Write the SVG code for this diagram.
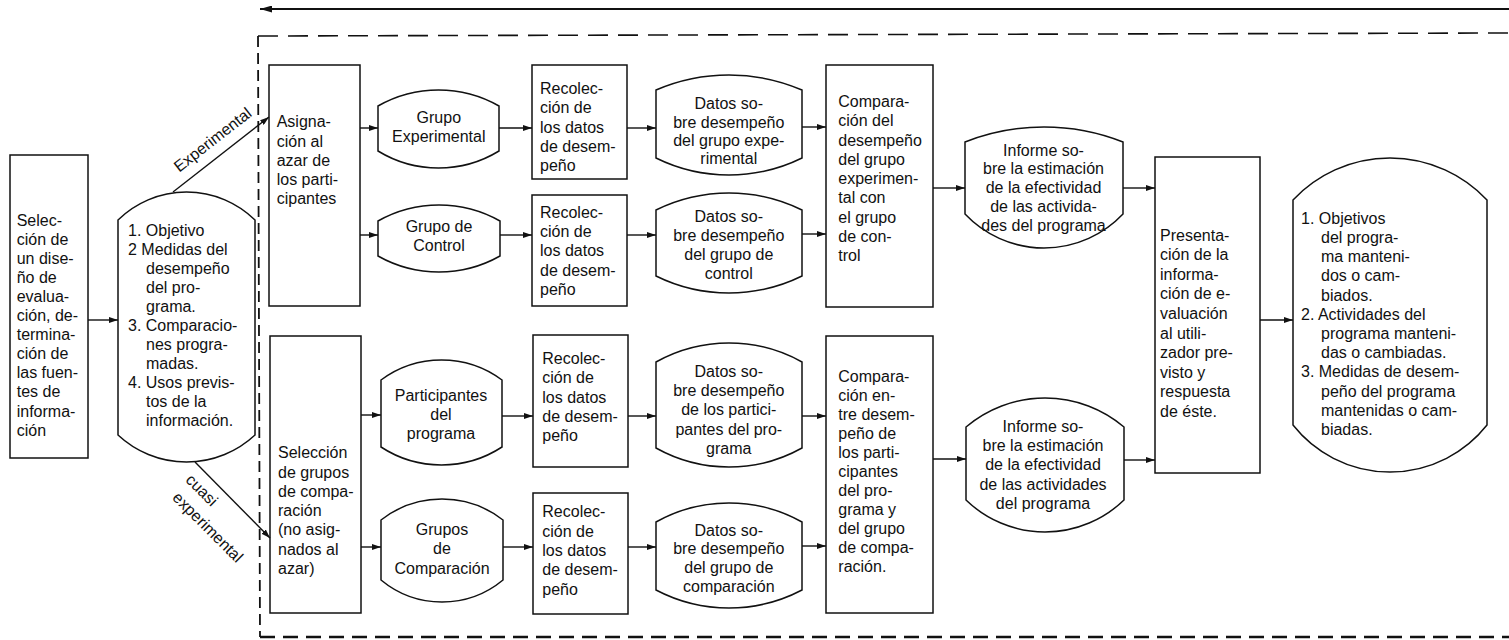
<svg xmlns="http://www.w3.org/2000/svg" width="1509" height="640" viewBox="0 0 1509 640">
<defs>
<style>
.n rect,.n path{fill:none;stroke:#111;stroke-width:1.5}
text{font-family:"Liberation Sans",Arial,sans-serif;font-size:16px;fill:#111}
.m{text-anchor:middle}
.c line{stroke:#111;stroke-width:1.4;marker-end:url(#ah)}
.d{fill:none;stroke:#111}
</style>
<marker id="ah" markerUnits="userSpaceOnUse" markerWidth="10" markerHeight="6" refX="9" refY="3" orient="auto">
<path d="M0,0 L9,3 L0,6 Z" fill="#111"/>
</marker>
<marker id="ah2" markerUnits="userSpaceOnUse" markerWidth="13" markerHeight="7" refX="12" refY="3.5" orient="auto">
<path d="M0,0 L12,3.5 L0,7 Z" fill="#111"/>
</marker>
</defs>
<rect width="1509" height="640" fill="#fff"/>

<g id="frame">
<line class="d" x1="258" y1="36" x2="1509" y2="33" stroke-width="1.6" stroke-dasharray="20 10"/>
<line class="d" x1="258" y1="36" x2="260" y2="637" stroke-width="1.8" stroke-dasharray="11 6"/>
<line class="d" x1="260" y1="637" x2="1509" y2="637" stroke-width="2.6" stroke-dasharray="15 8"/>
</g>

<g class="c" id="connectors">
<line x1="1509" y1="9" x2="260" y2="9" style="stroke-width:1.8;marker-end:url(#ah2)"/>
<line x1="88" y1="320" x2="118" y2="320"/>
<line x1="173" y1="192" x2="269" y2="117"/>
<line x1="195" y1="462" x2="270" y2="538"/>
<line x1="360" y1="128" x2="378" y2="128"/>
<line x1="360" y1="235" x2="378" y2="235"/>
<line x1="499" y1="128" x2="532" y2="128"/>
<line x1="500" y1="235" x2="532" y2="235"/>
<line x1="627" y1="128" x2="656" y2="128"/>
<line x1="627" y1="235" x2="656" y2="235"/>
<line x1="802" y1="127" x2="826" y2="127"/>
<line x1="802" y1="234" x2="826" y2="234"/>
<line x1="933" y1="188" x2="965" y2="188"/>
<line x1="361" y1="415" x2="381" y2="415"/>
<line x1="361" y1="547" x2="381" y2="547"/>
<line x1="502" y1="416" x2="533" y2="416"/>
<line x1="503" y1="547" x2="533" y2="547"/>
<line x1="628" y1="416" x2="656" y2="416"/>
<line x1="628" y1="547" x2="656" y2="547"/>
<line x1="802" y1="416" x2="826" y2="416"/>
<line x1="802" y1="546" x2="826" y2="546"/>
<line x1="933" y1="459" x2="966" y2="459"/>
<line x1="1123" y1="188" x2="1155" y2="188"/>
<line x1="1124" y1="460" x2="1155" y2="460"/>
<line x1="1260" y1="320" x2="1293" y2="320"/>
</g>

<g id="labels">
<text class="m" transform="translate(216,144) rotate(-38)">Experimental</text>
<text class="m" transform="translate(198,494) rotate(45)">cuasi</text>
<text class="m" transform="translate(204,531) rotate(45)">experimental</text>
</g>

<g class="n" id="seleccion-diseno">
<rect x="10" y="155" width="78" height="303"/>
<text x="16.7" y="225.5"><tspan x="16.7">Selec-</tspan><tspan x="16.7" dy="19.1">ción de</tspan><tspan x="16.7" dy="19.1">un dise-</tspan><tspan x="16.7" dy="19.1">ño de</tspan><tspan x="16.7" dy="19.1">evalua-</tspan><tspan x="16.7" dy="19.1">ción, de-</tspan><tspan x="16.7" dy="19.1">termina-</tspan><tspan x="16.7" dy="19.1">ción de</tspan><tspan x="16.7" dy="19.1">las fuen-</tspan><tspan x="16.7" dy="19.1">tes de</tspan><tspan x="16.7" dy="19.1">informa-</tspan><tspan x="16.7" dy="19.1">ción</tspan></text>
</g>

<g class="n" id="objetivos">
<path d="M118,220 A97.8,97.8 0 0 1 255,220 L255,435 A100.4,100.4 0 0 1 118,435 Z"/>
<text x="128" y="235.5"><tspan x="128">1. Objetivo</tspan><tspan x="128" dy="19.05">2 Medidas del</tspan><tspan x="146" dy="19.05">desempeño</tspan><tspan x="146" dy="19.05">del pro-</tspan><tspan x="146" dy="19.05">grama.</tspan><tspan x="128" dy="19.05">3. Comparacio-</tspan><tspan x="146" dy="19.05">nes progra-</tspan><tspan x="146" dy="19.05">madas.</tspan><tspan x="128" dy="19.05">4. Usos previs-</tspan><tspan x="146" dy="19.05">tos de la</tspan><tspan x="146" dy="19.05">información.</tspan></text>
</g>

<g class="n" id="asignacion">
<rect x="269" y="65" width="91" height="241"/>
<text x="276.7" y="127.2"><tspan x="276.7">Asigna-</tspan><tspan x="276.7" dy="19.3">ción al</tspan><tspan x="276.7" dy="19.3">azar de</tspan><tspan x="276.7" dy="19.3">los parti-</tspan><tspan x="276.7" dy="19.3">cipantes</tspan></text>
</g>

<g class="n" id="seleccion-grupos">
<rect x="270" y="336" width="91" height="277"/>
<text x="278" y="458.2"><tspan x="278">Selección</tspan><tspan x="278" dy="19.3">de grupos</tspan><tspan x="278" dy="19.3">de compa-</tspan><tspan x="278" dy="19.3">ración</tspan><tspan x="278" dy="19.3">(no asig-</tspan><tspan x="278" dy="19.3">nados al</tspan><tspan x="278" dy="19.3">azar)</tspan></text>
</g>

<g class="n" id="grupo-experimental">
<path d="M378,106 A122.4,122.4 0 0 1 499,106 L499,151 A116.1,116.1 0 0 1 378,151 Z"/>
<text class="m" x="438.8" y="122.8"><tspan x="438.8">Grupo</tspan><tspan x="438.8" dy="19.4">Experimental</tspan></text>
</g>

<g class="n" id="grupo-control">
<path d="M378,221 A124.3,124.3 0 0 1 500,221 L500,256 A124.3,124.3 0 0 1 378,256 Z"/>
<text class="m" x="439" y="231.5"><tspan x="439">Grupo de</tspan><tspan x="439" dy="19">Control</tspan></text>
</g>

<g class="n" id="participantes">
<path d="M381,380 A101.5,101.5 0 0 1 502,380 L502,447 A110.7,110.7 0 0 1 381,447 Z"/>
<text class="m" x="441" y="400.5"><tspan x="441">Participantes</tspan><tspan x="441" dy="19.3">del</tspan><tspan x="441" dy="19">programa</tspan></text>
</g>

<g class="n" id="grupos-comparacion">
<path d="M381,520 A99.1,99.1 0 0 1 503,520 L503,580 A95.6,95.6 0 0 1 381,580 Z"/>
<text class="m" x="442" y="534.8"><tspan x="442">Grupos</tspan><tspan x="442" dy="19">de</tspan><tspan x="442" dy="20">Comparación</tspan></text>
</g>

<g class="n" id="recoleccion-1">
<rect x="532" y="65" width="95" height="114"/>
<text x="540" y="93.8"><tspan x="540">Recolec-</tspan><tspan x="540" dy="19.35">ción de</tspan><tspan x="540" dy="19.35">los datos</tspan><tspan x="540" dy="19.35">de desem-</tspan><tspan x="540" dy="19.35">peño</tspan></text>
</g>

<g class="n" id="recoleccion-2">
<rect x="532" y="195" width="95" height="111"/>
<text x="540" y="217.8"><tspan x="540">Recolec-</tspan><tspan x="540" dy="19.25">ción de</tspan><tspan x="540" dy="19.25">los datos</tspan><tspan x="540" dy="19.25">de desem-</tspan><tspan x="540" dy="19.25">peño</tspan></text>
</g>

<g class="n" id="recoleccion-3">
<rect x="533" y="335" width="95" height="132"/>
<text x="542.3" y="363.8"><tspan x="542.3">Recolec-</tspan><tspan x="542.3" dy="19.4">ción de</tspan><tspan x="542.3" dy="19.4">los datos</tspan><tspan x="542.3" dy="19.4">de desem-</tspan><tspan x="542.3" dy="19.4">peño</tspan></text>
</g>

<g class="n" id="recoleccion-4">
<rect x="533" y="493" width="95" height="121"/>
<text x="542.3" y="517.2"><tspan x="542.3">Recolec-</tspan><tspan x="542.3" dy="19.4">ción de</tspan><tspan x="542.3" dy="19.4">los datos</tspan><tspan x="542.3" dy="19.4">de desem-</tspan><tspan x="542.3" dy="19.4">peño</tspan></text>
</g>

<g class="n" id="datos-1">
<path d="M656,90 A185.1,185.1 0 0 1 802,90 L802,158 A165.2,165.2 0 0 1 656,158 Z"/>
<text class="m" x="728.8" y="109"><tspan x="728.8">Datos so-</tspan><tspan x="728.8" dy="18.5">bre desempeño</tspan><tspan x="728.8" dy="18.5">del grupo expe-</tspan><tspan x="728.8" dy="18">rimental</tspan></text>
</g>

<g class="n" id="datos-2">
<path d="M656,210 A165.2,165.2 0 0 1 802,210 L802,276 A165.2,165.2 0 0 1 656,276 Z"/>
<text class="m" x="728.8" y="222"><tspan x="728.8">Datos so-</tspan><tspan x="728.8" dy="18.5">bre desempeño</tspan><tspan x="728.8" dy="19">del grupo de</tspan><tspan x="728.8" dy="19.3">control</tspan></text>
</g>

<g class="n" id="datos-3">
<path d="M656,362 A149.7,149.7 0 0 1 802,362 L802,448 A149.7,149.7 0 0 1 656,448 Z"/>
<text class="m" x="728.8" y="377"><tspan x="728.8">Datos so-</tspan><tspan x="728.8" dy="19">bre desempeño</tspan><tspan x="728.8" dy="19.3">de los partici-</tspan><tspan x="728.8" dy="19.3">pantes del pro-</tspan><tspan x="728.8" dy="19">grama</tspan></text>
</g>

<g class="n" id="datos-4">
<path d="M656,522 A149.7,149.7 0 0 1 802,522 L802,590 A157,157 0 0 1 656,590 Z"/>
<text class="m" x="728.8" y="535.5"><tspan x="728.8">Datos so-</tspan><tspan x="728.8" dy="18.5">bre desempeño</tspan><tspan x="728.8" dy="19">del grupo de</tspan><tspan x="728.8" dy="19.3">comparación</tspan></text>
</g>

<g class="n" id="comparacion-1">
<rect x="826" y="65" width="107" height="242"/>
<text x="838.3" y="107.2"><tspan x="838.3">Compara-</tspan><tspan x="838.3" dy="19.25">ción del</tspan><tspan x="838.3" dy="19.25">desempeño</tspan><tspan x="838.3" dy="19.25">del grupo</tspan><tspan x="838.3" dy="19.25">experimen-</tspan><tspan x="838.3" dy="19.25">tal con</tspan><tspan x="838.3" dy="19.25">el grupo</tspan><tspan x="838.3" dy="19.25">de con-</tspan><tspan x="838.3" dy="19.25">trol</tspan></text>
</g>

<g class="n" id="comparacion-2">
<rect x="826" y="336" width="107" height="277"/>
<text x="838.3" y="382.2"><tspan x="838.3">Compara-</tspan><tspan x="838.3" dy="19">ción en-</tspan><tspan x="838.3" dy="19">tre desem-</tspan><tspan x="838.3" dy="19">peño de</tspan><tspan x="838.3" dy="19">los parti-</tspan><tspan x="838.3" dy="19">cipantes</tspan><tspan x="838.3" dy="19">del pro-</tspan><tspan x="838.3" dy="19">grama y</tspan><tspan x="838.3" dy="19">del grupo</tspan><tspan x="838.3" dy="19">de compa-</tspan><tspan x="838.3" dy="19">ración.</tspan></text>
</g>

<g class="n" id="informe-1">
<path d="M965,142 A215.5,215.5 0 0 1 1123,142 L1123,214 A108.8,108.8 0 0 1 965,214 Z"/>
<text class="m" x="1043.5" y="155.5"><tspan x="1043.5">Informe so-</tspan><tspan x="1043.5" dy="18.6">bre la estimación</tspan><tspan x="1043.5" dy="19">de la efectividad</tspan><tspan x="1043.5" dy="19.2">de las activida-</tspan><tspan x="1043.5" dy="19">des del programa</tspan></text>
</g>

<g class="n" id="informe-2">
<path d="M966,427 A122.1,122.1 0 0 1 1124,427 L1124,500 A113.5,113.5 0 0 1 966,500 Z"/>
<text class="m" x="1043" y="432"><tspan x="1043">Informe so-</tspan><tspan x="1043" dy="19.3">bre la estimación</tspan><tspan x="1043" dy="19.1">de la efectividad</tspan><tspan x="1043" dy="19.3">de las actividades</tspan><tspan x="1043" dy="19.1">del programa</tspan></text>
</g>

<g class="n" id="presentacion">
<rect x="1155" y="157" width="105" height="316"/>
<text x="1160" y="240.5"><tspan x="1160">Presenta-</tspan><tspan x="1160" dy="19.6">ción de la</tspan><tspan x="1160" dy="19.6">informa-</tspan><tspan x="1160" dy="19.6">ción de e-</tspan><tspan x="1160" dy="19.6">valuación</tspan><tspan x="1160" dy="19.6">al utili-</tspan><tspan x="1160" dy="19.6">zador pre-</tspan><tspan x="1160" dy="19.6">visto y</tspan><tspan x="1160" dy="19.6">respuesta</tspan><tspan x="1160" dy="19.6">de éste.</tspan></text>
</g>

<g class="n" id="resultado">
<path d="M1293,200 A133,133 0 0 1 1487,200 L1487,425 A123.6,123.6 0 0 1 1293,425 Z"/>
<text x="1301" y="223.8"><tspan x="1301">1. Objetivos</tspan><tspan x="1321" dy="19.2">del progra-</tspan><tspan x="1321" dy="19.2">ma manteni-</tspan><tspan x="1321" dy="19.2">dos o cam-</tspan><tspan x="1321" dy="19.2">biados.</tspan><tspan x="1301" dy="19.2">2. Actividades del</tspan><tspan x="1321" dy="19.2">programa manteni-</tspan><tspan x="1321" dy="19.2">das o cambiadas.</tspan><tspan x="1301" dy="19.2">3. Medidas de desem-</tspan><tspan x="1321" dy="19.2">peño del programa</tspan><tspan x="1321" dy="19.2">mantenidas o cam-</tspan><tspan x="1321" dy="19.2">biadas.</tspan></text>
</g>
</svg>
